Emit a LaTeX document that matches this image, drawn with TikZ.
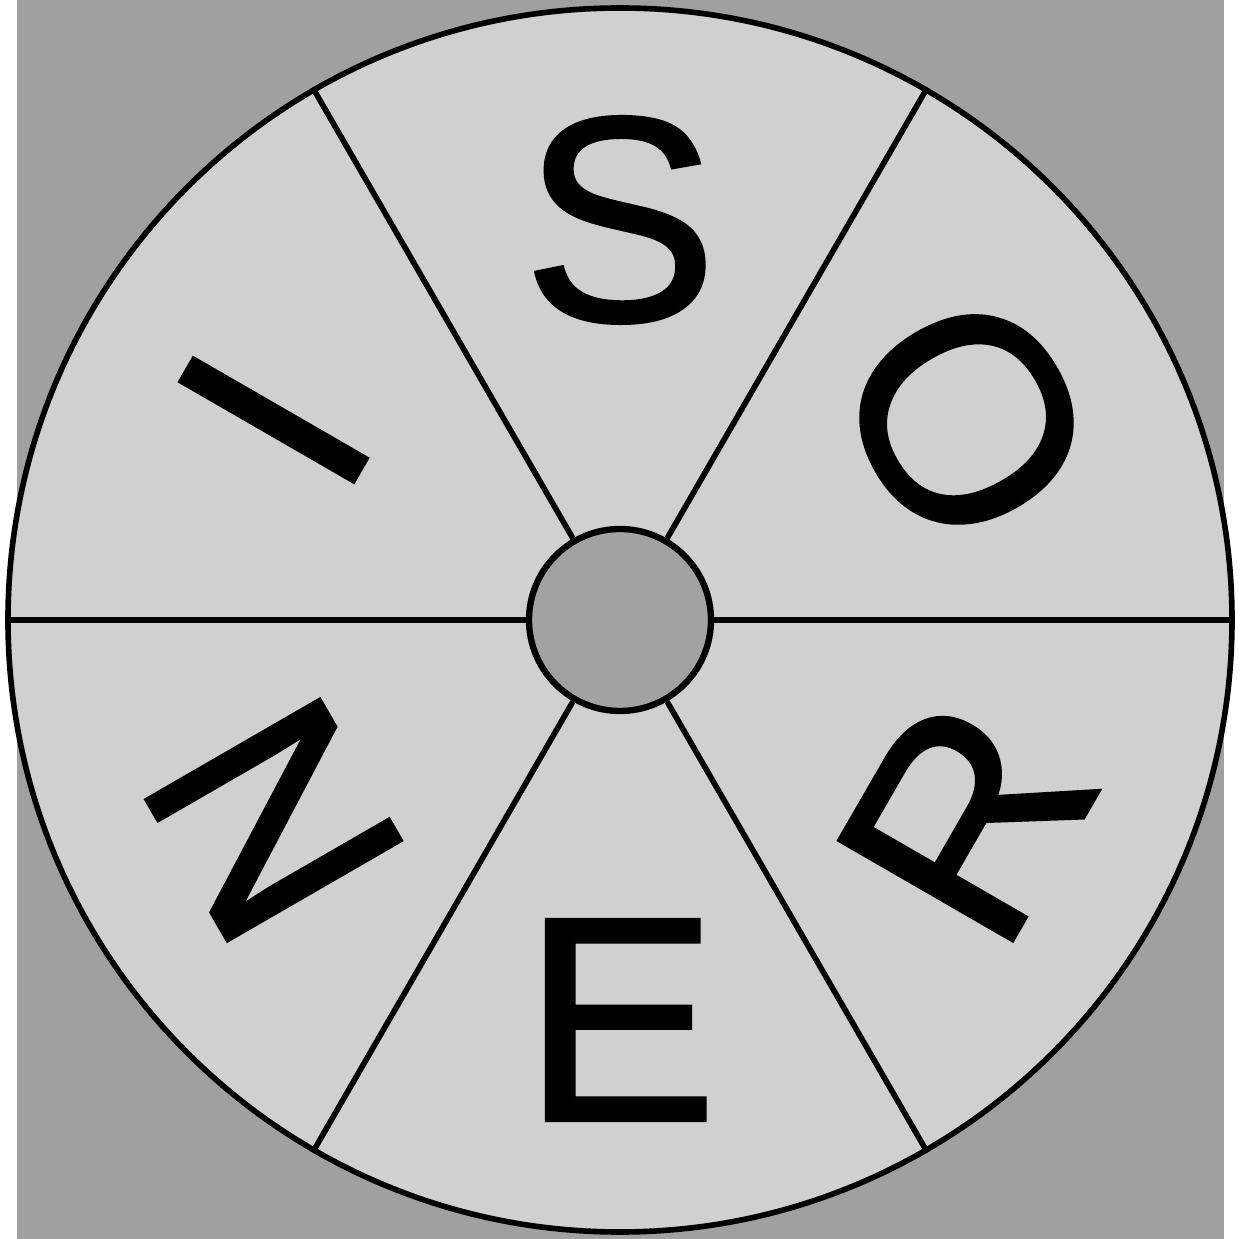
\documentclass[tikz,border=0pt]{standalone}
\usepackage{fontspec}
\setmainfont{Liberation Sans}
\newfontfamily\wheelfont[FakeBold=1.2]{Liberation Sans}
\definecolor{bggray}{HTML}{A0A0A0}
\definecolor{wheelgray}{HTML}{D0D0D0}
\definecolor{hubgray}{HTML}{A2A2A2}
\begin{document}
\begin{tikzpicture}[
  wheelline/.style={line width=3.2pt, draw=black},
  letter/.style={font=\wheelfont\fontsize{166}{166}\selectfont, inner sep=0pt, text=black}]
\useasboundingbox (-12.4,-12.38) rectangle (12.46,12.4);
\fill[white] (-12.4,-12.38) rectangle (12.46,12.4);
\fill[bggray] (-12.06,-12.38) rectangle (12.08,12.4);
\node[circle, minimum size=24.48cm, inner sep=0pt, fill=wheelgray, wheelline] (wheel) at (0,0) {};
\node[circle, minimum size=3.64cm, inner sep=0pt, fill=hubgray, wheelline, line width=3.6pt] (hub) at (0,0) {};
\foreach \a in {0,60,...,300} {
  \draw[wheelline] (hub.\a) -- (wheel.\a);
}
\node[letter, rotate=0]   (ls) at (90:8)  {S};
\node[letter, rotate=-60] (lo) at (30:8)  {O};
\node[letter, rotate=60]  (lr) at (-30:8) {R};
\node[letter, rotate=0]   (le) at (-90:8) {E};
\node[letter, rotate=-60] (ln) at (210:8) {N};
\node[letter, rotate=60]  (li) at (150:8) {I};
\end{tikzpicture}
\end{document}
